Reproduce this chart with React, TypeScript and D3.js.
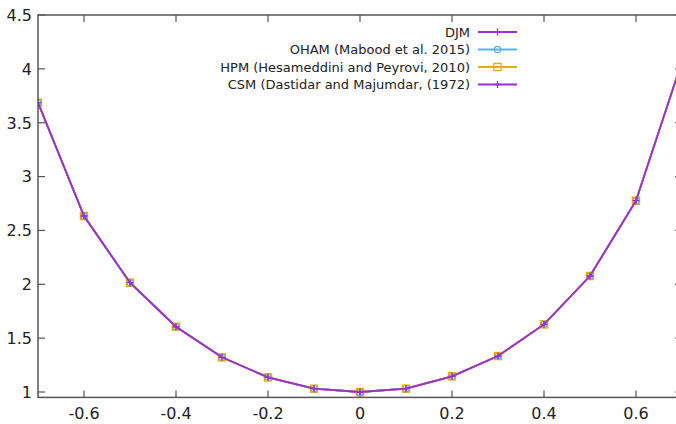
import React from "react";
import * as d3 from "d3";

const xValues = [-0.7, -0.6, -0.5, -0.4, -0.3, -0.2, -0.1, 0, 0.1, 0.2, 0.3, 0.4, 0.5, 0.6, 0.7];
const djm = [3.686, 2.634, 2.015, 1.606, 1.322, 1.136, 1.031, 1.0, 1.031, 1.146, 1.334, 1.628, 2.077, 2.776, 4.07];
const oham = [3.686, 2.634, 2.015, 1.606, 1.322, 1.136, 1.031, 1.0, 1.031, 1.146, 1.334, 1.628, 2.077, 2.776, 4.07];
const hpm = [3.686, 2.634, 2.015, 1.606, 1.322, 1.136, 1.031, 1.0, 1.031, 1.146, 1.334, 1.628, 2.077, 2.776, 4.07];
const csm = [3.686, 2.634, 2.015, 1.606, 1.322, 1.136, 1.031, 1.0, 1.031, 1.146, 1.334, 1.628, 2.077, 2.776, 4.07];

const xTicks = [-0.6, -0.4, -0.2, 0, 0.2, 0.4, 0.6];
const yTicks = [1, 1.5, 2, 2.5, 3, 3.5, 4, 4.5];
const legendLabels = [
  "DJM",
  "OHAM (Mabood et al. 2015)",
  "HPM (Hesameddini and Peyrovi, 2010)",
  "CSM (Dastidar and Majumdar, (1972)",
];

const PURPLE = "#9a2fd6";
const BLUE = "#56b4e9";
const ORANGE = "#e8aa10";
const AXIS = "#555";
const FONT = "'DejaVu Sans', Verdana, sans-serif";

type Marker = "plus" | "circle" | "square";

function MarkerShape({ kind, x, y, color }: { kind: Marker; x: number; y: number; color: string }) {
  if (kind === "plus") {
    return (
      <path
        d={`M${x - 3.5},${y}H${x + 3.5}M${x},${y - 3.5}V${y + 3.5}`}
        stroke={color}
        strokeWidth={1.3}
        fill="none"
      />
    );
  }
  if (kind === "circle") {
    return <circle cx={x} cy={y} r={3.2} stroke={color} strokeWidth={1.3} fill="none" />;
  }
  return <rect x={x - 3.6} y={y - 3.6} width={7.2} height={7.2} stroke={color} strokeWidth={1.3} fill="none" />;
}

export default function App() {
  const W = 676;
  const H = 424;
  const left = 38;
  const right = 682;
  const top = 15;
  const bottom = 397.4;

  const x = d3.scaleLinear().domain([-0.7, 0.7]).range([left, right]);
  const y = d3.scaleLinear().domain([0.95, 4.5]).range([bottom, top]);

  const series: { label: string; values: number[]; color: string; marker: Marker }[] = [
    { label: legendLabels[0], values: djm, color: PURPLE, marker: "plus" },
    { label: legendLabels[1], values: oham, color: BLUE, marker: "circle" },
    { label: legendLabels[2], values: hpm, color: ORANGE, marker: "square" },
    { label: legendLabels[3], values: csm, color: PURPLE, marker: "plus" },
  ];

  const line = d3
    .line<number>()
    .x((_, i) => x(xValues[i]))
    .y((d) => y(d));

  const tickLen = 7;
  const legendRight = 470;
  const legendY0 = 32;
  const legendDy = 17.5;

  return (
    <svg
      width={W}
      height={H}
      style={{ position: "absolute", left: 0, top: 0, background: "#fff" }}
      fontFamily={FONT}
    >
      <defs>
        <clipPath id="plotclip">
          <rect x={left} y={top} width={right - left} height={bottom - top} />
        </clipPath>
      </defs>
      <rect x={0} y={0} width={W} height={H} fill="#fff" />

      {xTicks.map((t) => (
        <g key={"xt" + t}>
          <line x1={x(t)} x2={x(t)} y1={bottom} y2={bottom - tickLen} stroke={AXIS} strokeWidth={1.2} />
          <line x1={x(t)} x2={x(t)} y1={top} y2={top + tickLen} stroke={AXIS} strokeWidth={1.2} />
          <text x={x(t)} y={419} textAnchor="middle" fontSize={16} fill="#222">
            {t === 0 ? "0" : String(t)}
          </text>
        </g>
      ))}
      {yTicks.map((t) => (
        <g key={"yt" + t}>
          <line x1={left} x2={left + tickLen} y1={y(t)} y2={y(t)} stroke={AXIS} strokeWidth={1.2} />
          <line x1={right} x2={right - tickLen} y1={y(t)} y2={y(t)} stroke={AXIS} strokeWidth={1.2} />
          <text x={32} y={y(t) + 5.8} textAnchor="end" fontSize={16} fill="#222">
            {String(t)}
          </text>
        </g>
      ))}

      <g clipPath="url(#plotclip)">
        {series.map((s, si) => (
          <g key={"s" + si}>
            <path d={line(s.values) || ""} stroke={s.color} strokeWidth={1.8} fill="none" />
            {s.values.map((v, i) => (
              <MarkerShape key={i} kind={s.marker} x={x(xValues[i])} y={y(v)} color={s.color} />
            ))}
          </g>
        ))}
      </g>

      <rect
        x={left}
        y={top}
        width={right - left}
        height={bottom - top}
        fill="none"
        stroke={AXIS}
        strokeWidth={1.5}
      />

      {series.map((s, i) => {
        const ly = legendY0 + i * legendDy;
        return (
          <g key={"lg" + i}>
            <text x={legendRight} y={ly + 4.7} textAnchor="end" fontSize={13} fill="#222">
              {s.label}
            </text>
            <line x1={478} x2={517} y1={ly} y2={ly} stroke={s.color} strokeWidth={1.8} />
            <MarkerShape kind={s.marker} x={497.5} y={ly} color={s.color} />
          </g>
        );
      })}
    </svg>
  );
}
